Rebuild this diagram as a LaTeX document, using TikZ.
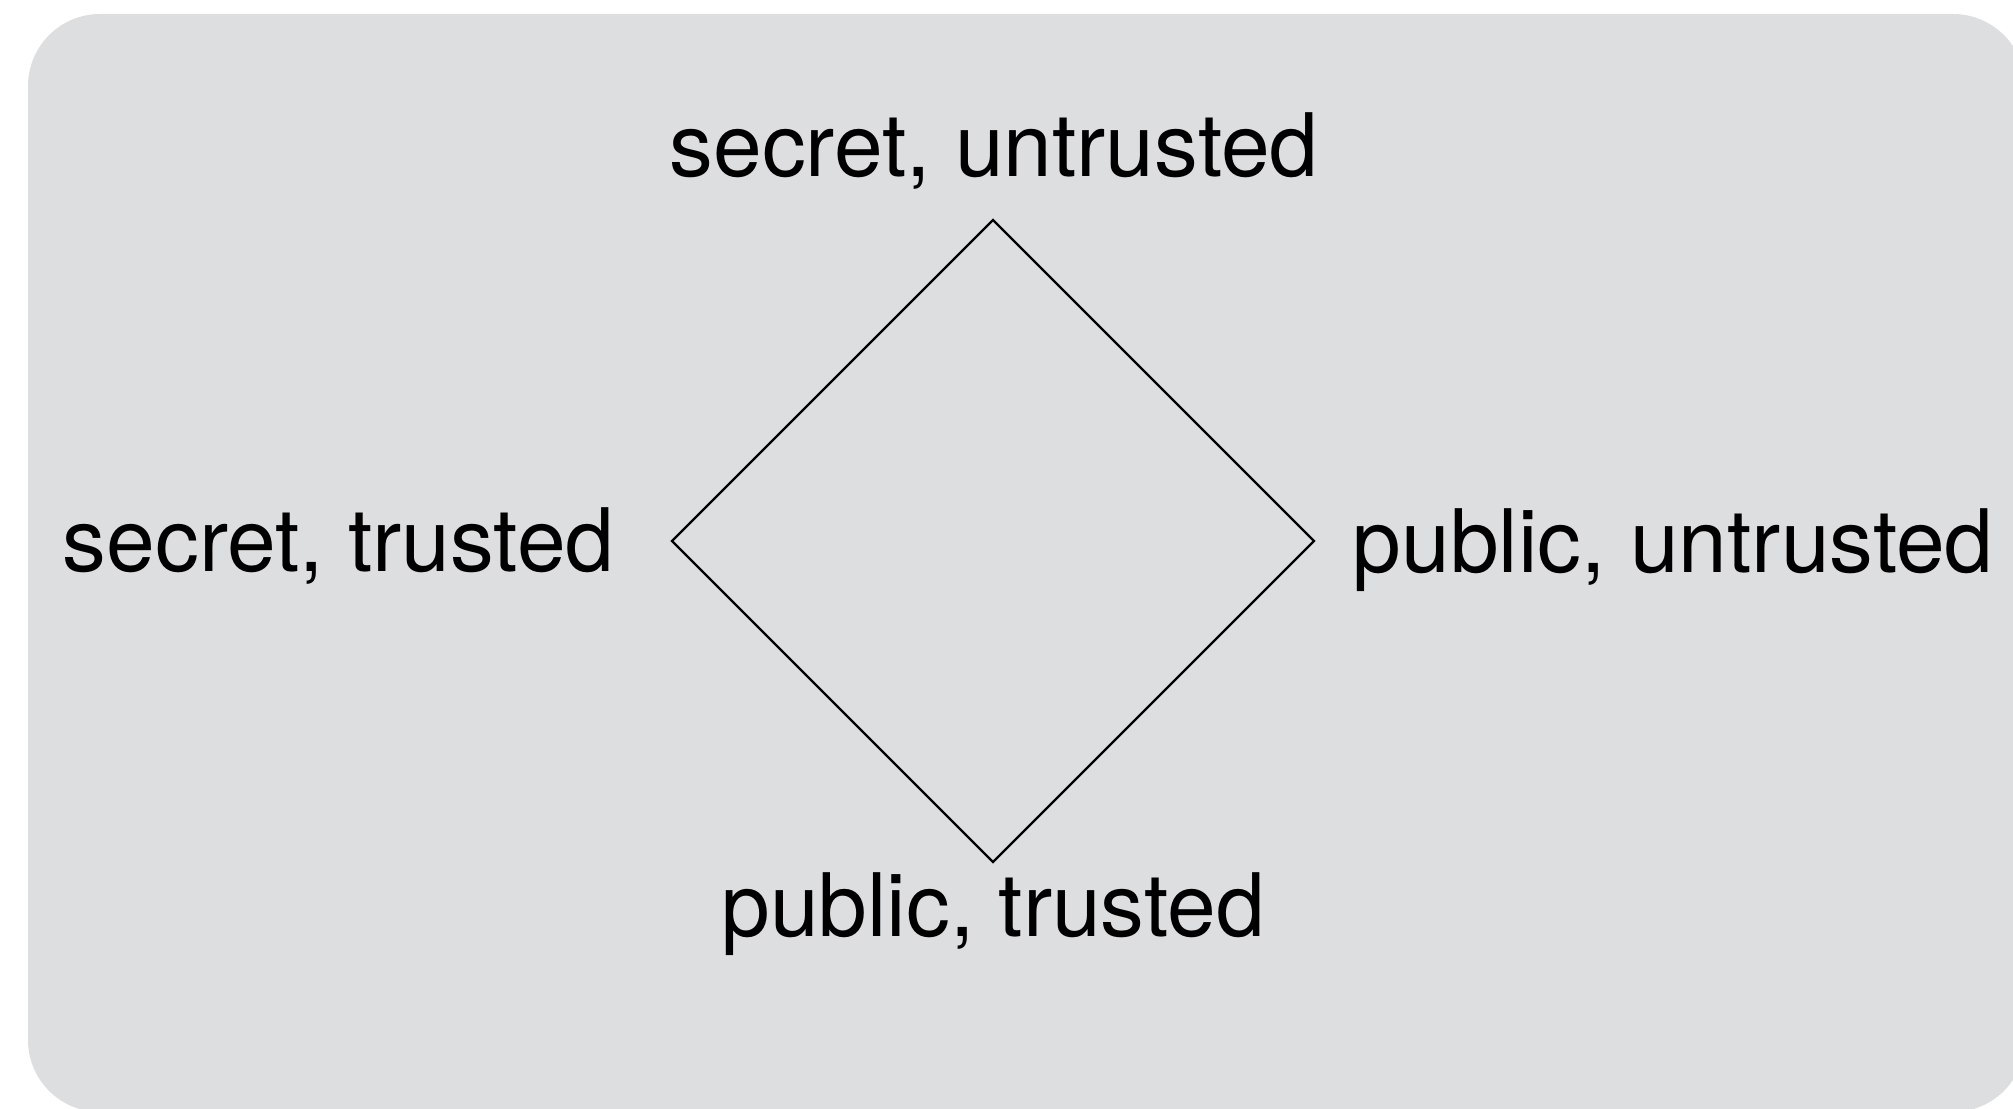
\documentclass[tikz,border=0pt]{standalone}
\usepackage{fontspec}
\setmainfont{TeX Gyre Heros}
\usetikzlibrary{positioning}
\definecolor{cPanel}{HTML}{DDDEE0}
\definecolor{cInk}{HTML}{000000}
\tikzset{
  lbl/.style={font=\fontsize{24.9}{30}\selectfont, text=cInk, inner sep=0pt},
  latt/.style={cInk, line width=0.65pt, line join=miter},
}
\begin{document}
\begin{tikzpicture}[x=0.01cm, y=0.01cm]
\useasboundingbox (0,0) rectangle (2013,1108);
\clip (0,0) rectangle (2013,1108);
% panel
\fill[cPanel, rounded corners=7.2mm] (28,-4) rectangle (2025,1094);
% lattice points
\coordinate (top) at (993,888);
\coordinate (right) at (1314,567);
\coordinate (bot) at (993,246);
\coordinate (left) at (672,567);
\draw[latt] (top) -- (right) -- (bot) -- (left) -- cycle;
% labels
\node[lbl, anchor=base] (su) at (994,932) {secret, untrusted};
\node[lbl, anchor=base] (pt) at (993,172) {public, trusted};
\node[lbl, anchor=base east] (st) at (615,537) {secret, trusted};
\node[lbl, anchor=base west] (pu) at (1352,536) {public, untrusted};
\end{tikzpicture}
\end{document}
